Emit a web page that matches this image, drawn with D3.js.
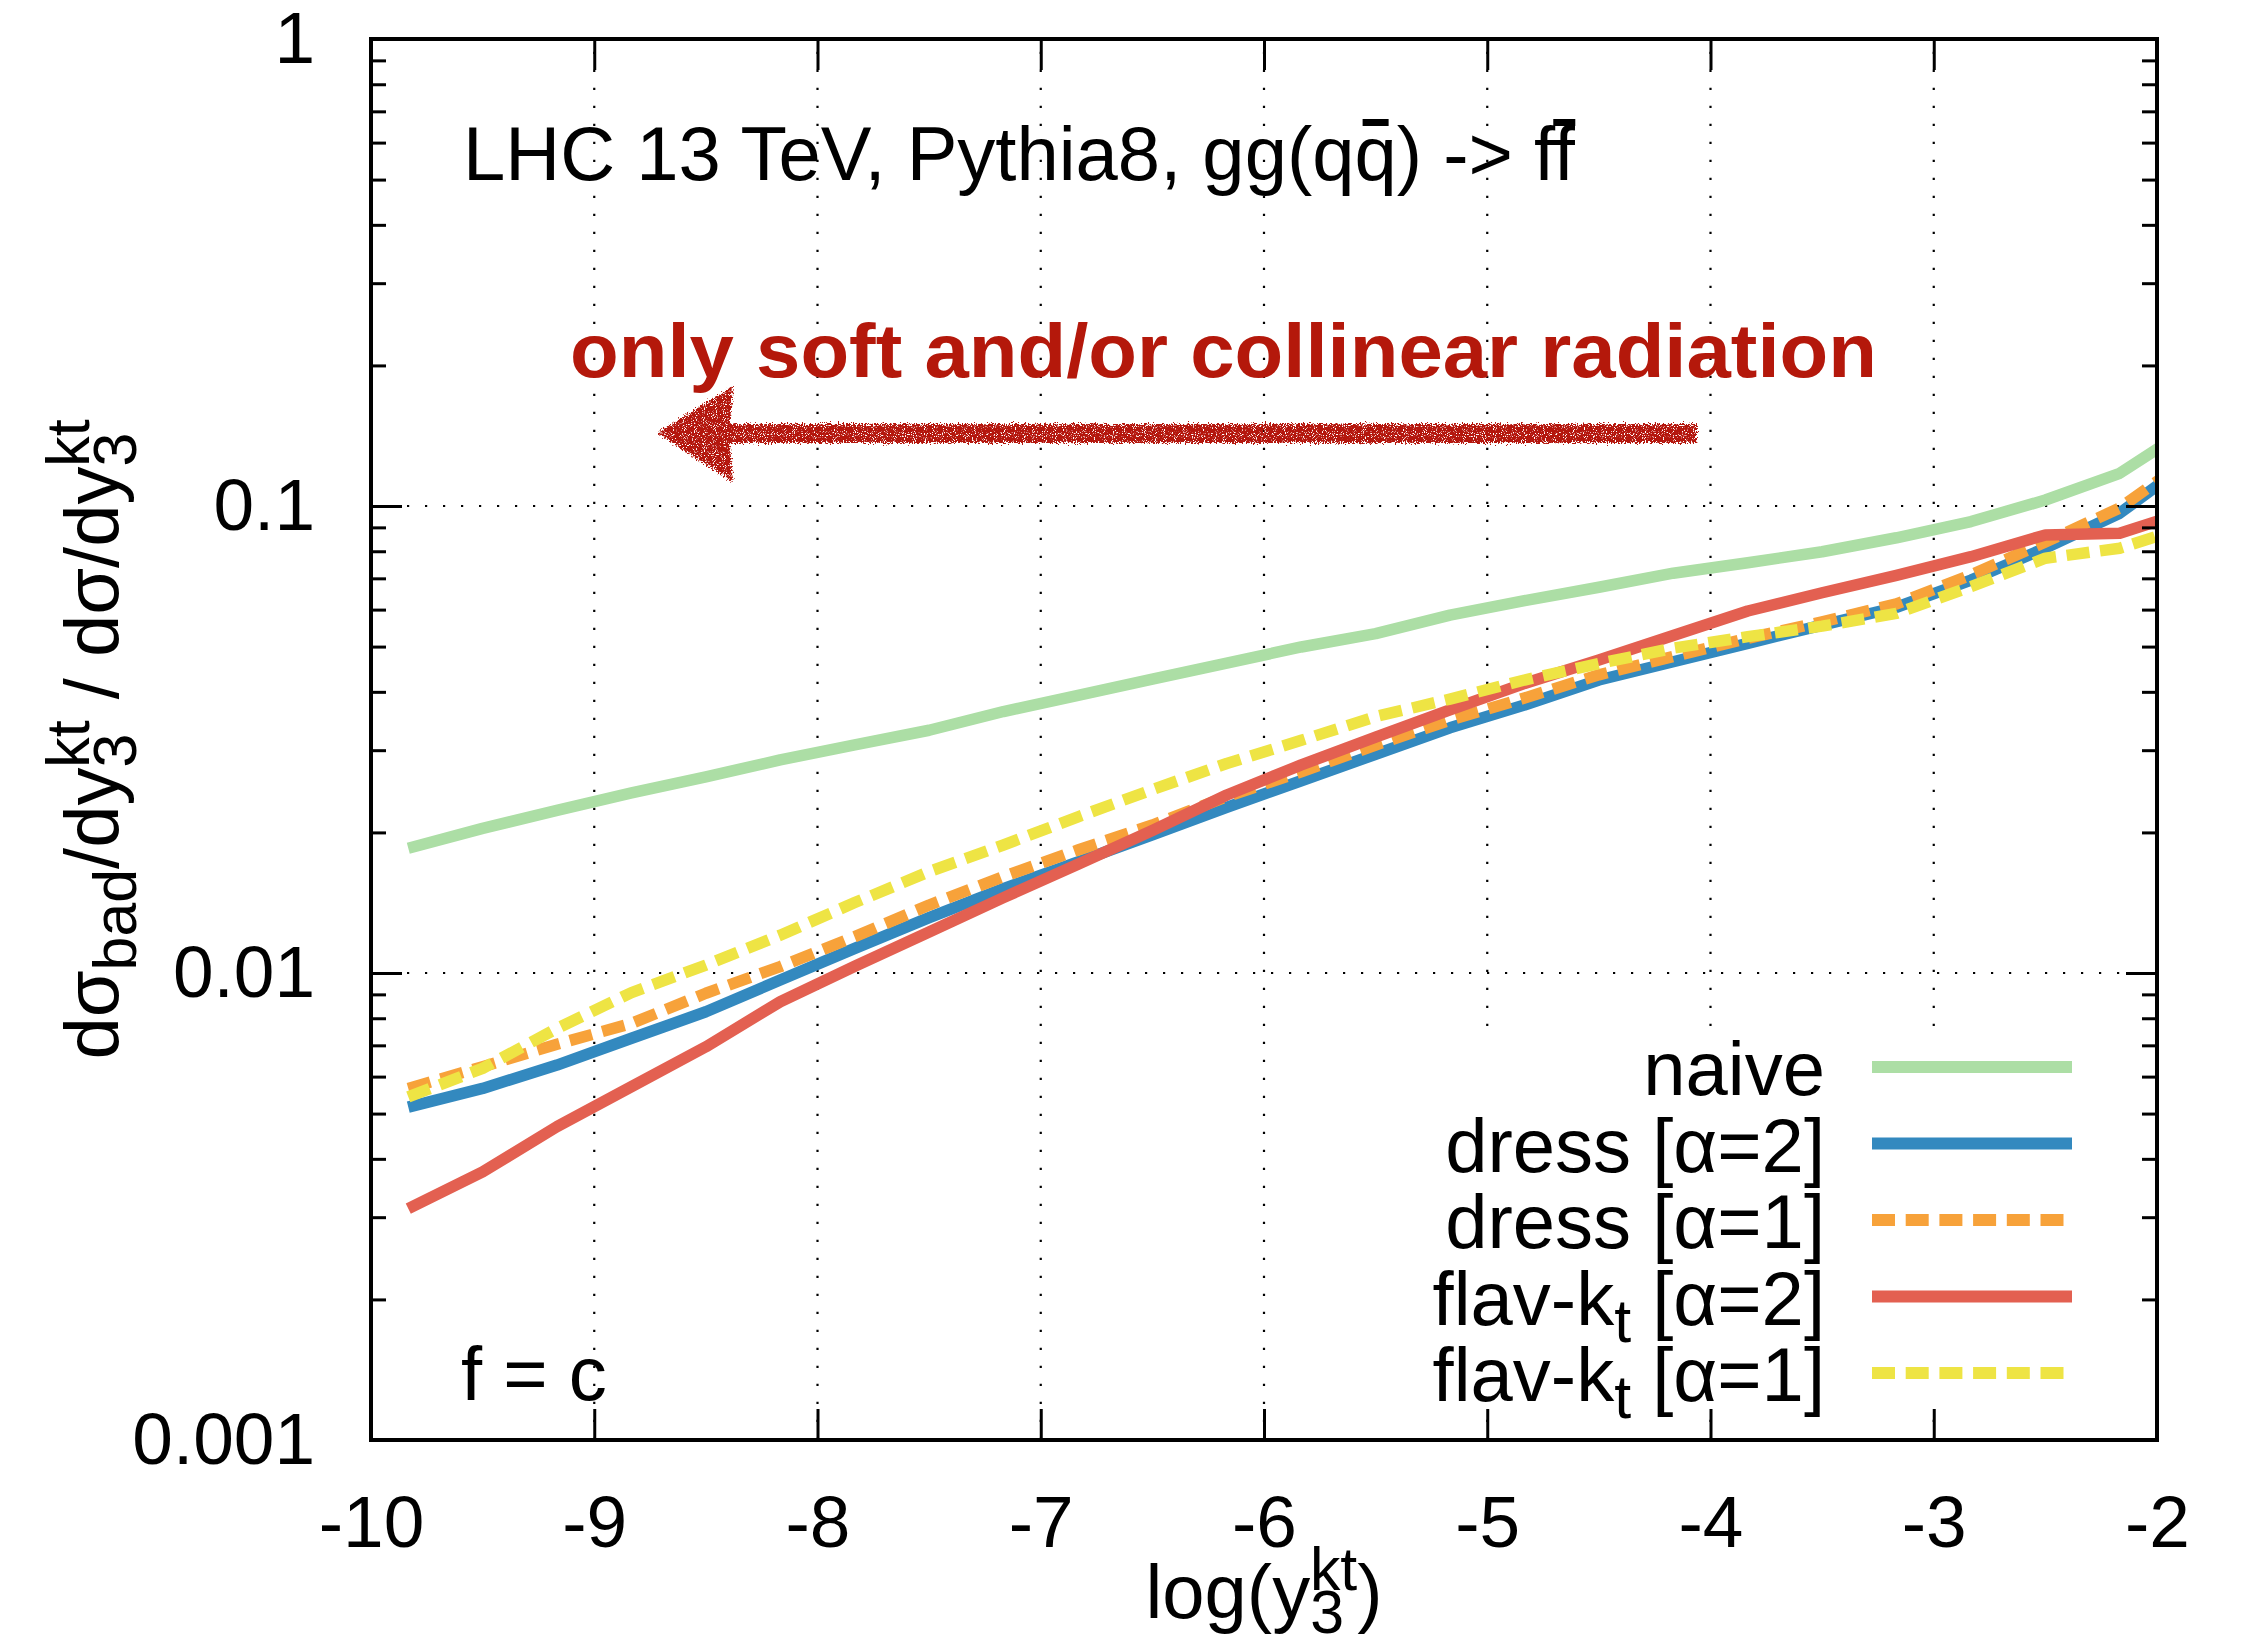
<!DOCTYPE html>
<html>
<head>
<meta charset="utf-8">
<script src="https://cdn.jsdelivr.net/npm/d3@7"></script>
<style>
  html, body { margin: 0; padding: 0; background: #fff; }
  svg { display: block; }
  text { font-family: "Liberation Sans", Arial, Helvetica, sans-serif; fill: #000; }
</style>
</head>
<body>
<svg id="chart" width="2244" height="1642"></svg>
<script>
// log(y3kt) bin centres
const logY3 = [-9.833, -9.5, -9.167, -8.833, -8.5, -8.167, -7.833, -7.5, -7.167, -6.833,
               -6.5, -6.167, -5.833, -5.5, -5.167, -4.833, -4.5, -4.167, -3.833, -3.5,
               -3.167, -2.833, -2.5, -2.167, -1.833];

// fraction of events with a badly-identified flavour, per algorithm
const naive = [0.0185, 0.0204, 0.0223, 0.0243, 0.0263, 0.0286, 0.0308, 0.0331, 0.0363, 0.0393,
               0.0426, 0.0461, 0.0499, 0.0533, 0.0584, 0.0627, 0.0670, 0.0718, 0.0756, 0.0798,
               0.0855, 0.0926, 0.1030, 0.1175, 0.149];
const dressA2 = [0.00516, 0.00566, 0.00635, 0.00725, 0.00826, 0.00966, 0.01129, 0.01314, 0.01516, 0.0173,
                 0.01977, 0.02264, 0.0258, 0.0294, 0.0335, 0.0375, 0.0424, 0.0464, 0.0508, 0.0556,
                 0.0607, 0.0694, 0.0813, 0.0965, 0.1263];
const dressA1 = [0.00566, 0.0063, 0.00704, 0.0078, 0.00905, 0.01032, 0.01196, 0.01398, 0.01608, 0.01834,
                 0.02074, 0.02385, 0.02698, 0.03078, 0.0348, 0.0388, 0.0435, 0.0476, 0.0521, 0.0565,
                 0.0617, 0.0712, 0.0837, 0.0990, 0.1286];
const flavKtA2 = [0.00313, 0.00375, 0.00469, 0.00571, 0.00695, 0.00868, 0.01034, 0.01224, 0.0145, 0.0171,
                  0.0202, 0.02405, 0.0279, 0.0320, 0.0366, 0.0417, 0.0468, 0.0528, 0.0596, 0.0652,
                  0.0710, 0.0779, 0.0867, 0.0874, 0.0984];
const flavKtA1 = [0.00543, 0.00625, 0.00761, 0.00908, 0.0104, 0.01205, 0.01415, 0.01648, 0.0188, 0.0216,
                  0.0247, 0.0281, 0.0315, 0.0354, 0.0386, 0.0424, 0.0460, 0.0496, 0.0525, 0.0553,
                  0.0589, 0.0672, 0.0773, 0.0812, 0.0913];

const xTicks = [-10, -9, -8, -7, -6, -5, -4, -3, -2];
const yTicks = [0.001, 0.01, 0.1, 1];
const yTickLabels = ["0.001", "0.01", "0.1", "1"];
const yMinorTicks = [0.002, 0.003, 0.004, 0.005, 0.006, 0.007, 0.008, 0.009,
                     0.02, 0.03, 0.04, 0.05, 0.06, 0.07, 0.08, 0.09,
                     0.2, 0.3, 0.4, 0.5, 0.6, 0.7, 0.8, 0.9];

const series = [
  { name: "naive",  sub: null, values: naive,    color: "#acdea5", dash: null },
  { name: "dress [α=2]", sub: null, values: dressA2, color: "#3389bf", dash: null },
  { name: "dress [α=1]", sub: null, values: dressA1, color: "#f7a23a", dash: "23 10.7" },
  { name: "flav-k", sub: "t", tail: " [α=2]", values: flavKtA2, color: "#e36051", dash: null },
  { name: "flav-k", sub: "t", tail: " [α=1]", values: flavKtA1, color: "#eee444", dash: "23 10.7" }
];

const W = 2244, H = 1642;
const plot = { left: 371, right: 2157, top: 39, bottom: 1440 };
const FONT = 76, TICKFONT = 73;

const svg = d3.select("#chart");
svg.append("rect").attr("width", W).attr("height", H).attr("fill", "#fff");

const x = d3.scaleLinear().domain([-10, -2]).range([plot.left, plot.right]);
const y = d3.scaleLog().domain([0.001, 1]).range([plot.bottom, plot.top]);

const defs = svg.append("defs");
defs.append("clipPath").attr("id", "plotclip")
  .append("rect")
  .attr("x", plot.left).attr("y", plot.top)
  .attr("width", plot.right - plot.left).attr("height", plot.bottom - plot.top);

// ragged, chalk-like edge for the hand-drawn arrow
const rough = defs.append("filter").attr("id", "rough")
  .attr("x", "-5%").attr("y", "-40%").attr("width", "110%").attr("height", "180%");
rough.append("feTurbulence").attr("type", "fractalNoise").attr("baseFrequency", "0.6")
  .attr("numOctaves", 2).attr("seed", 7).attr("result", "noise");
rough.append("feDisplacementMap").attr("in", "SourceGraphic").attr("in2", "noise")
  .attr("scale", 9).attr("xChannelSelector", "R").attr("yChannelSelector", "G")
  .attr("result", "shaken");
rough.append("feTurbulence").attr("type", "fractalNoise").attr("baseFrequency", "0.9")
  .attr("numOctaves", 1).attr("seed", 3).attr("result", "speck");
rough.append("feColorMatrix").attr("in", "speck").attr("type", "matrix")
  .attr("values", "0 0 0 0 0  0 0 0 0 0  0 0 0 0 0  0 0 0 -9 6.2").attr("result", "mask");
rough.append("feComposite").attr("in", "shaken").attr("in2", "mask").attr("operator", "in");

// dotted grid at the major ticks
const grid = svg.append("g").attr("stroke", "#000").attr("stroke-width", 2.2)
  .attr("stroke-dasharray", "2.2 15.8");
xTicks.filter(t => t > -10 && t < -2).forEach(t => {
  grid.append("line").attr("x1", x(t)).attr("x2", x(t))
    .attr("y1", plot.bottom).attr("y2", plot.top);
});
[0.01, 0.1].forEach(v => {
  grid.append("line").attr("x1", plot.left).attr("x2", plot.right)
    .attr("y1", y(v)).attr("y2", y(v));
});

// curves
const line = d3.line().x((d, i) => x(logY3[i])).y(d => y(d));
const curves = svg.append("g").attr("clip-path", "url(#plotclip)");
series.forEach(s => {
  curves.append("path")
    .attr("d", line(s.values))
    .attr("fill", "none")
    .attr("stroke", s.color)
    .attr("stroke-width", 11.5)
    .attr("stroke-linejoin", "round")
    .attr("stroke-linecap", "butt")
    .attr("stroke-dasharray", s.dash);
});

// annotations
const title = svg.append("text")
  .attr("x", 463).attr("y", 180)
  .attr("font-size", FONT)
  .text("LHC 13 TeV, Pythia8, gg(qq) -> ff");
[25, 32].forEach(idx => {
  const e = title.node().getExtentOfChar(idx);
  const cx = e.x + e.width / 2;
  const bw = idx === 25 ? 26 : 22;
  svg.append("rect").attr("x", cx - bw / 2).attr("y", 119).attr("width", bw).attr("height", 7)
    .attr("fill", "#000");
});

svg.append("text")
  .attr("x", 570).attr("y", 377)
  .attr("font-size", 76).attr("font-weight", "bold")
  .attr("textLength", 1307).attr("lengthAdjust", "spacingAndGlyphs")
  .style("fill", "#b4180b")
  .text("only soft and/or collinear radiation");

const arrow = svg.append("g").attr("filter", "url(#rough)").attr("fill", "#b4180b");
arrow.append("path").attr("d", "M657,433 L733,386 L729,433 L733,482 Z");
arrow.append("rect").attr("x", 725).attr("y", 424).attr("width", 972).attr("height", 19);

svg.append("text").attr("x", 461).attr("y", 1400).attr("font-size", FONT).text("f = c");

// legend (opaque key)
const key = svg.append("g");
key.append("rect").attr("x", 1410).attr("y", 1032).attr("width", 700).attr("height", 374).attr("fill", "#fff");
const rowY0 = 1067, rowStep = 76.5;
series.forEach((s, i) => {
  const ry = rowY0 + i * rowStep;
  const t = key.append("text").attr("x", 1825).attr("y", ry + 28)
    .attr("text-anchor", "end").attr("font-size", FONT);
  t.append("tspan").text(s.name);
  if (s.sub) {
    t.append("tspan").attr("font-size", FONT * 0.8).attr("dy", 17).text(s.sub);
    t.append("tspan").attr("dy", -17).text(s.tail);
  }
  key.append("line").attr("x1", 1872).attr("x2", 2072).attr("y1", ry).attr("y2", ry)
    .attr("stroke", s.color).attr("stroke-width", 12)
    .attr("stroke-dasharray", s.dash);
});

// axes: inward ticks on all four sides
const axB = d3.axisBottom(x).tickValues(xTicks).tickFormat(d => String(d))
  .tickSizeInner(-31).tickSizeOuter(0).tickPadding(55);
const gB = svg.append("g").attr("transform", `translate(0,${plot.bottom})`).call(axB);
const axT = d3.axisTop(x).tickValues(xTicks).tickFormat("").tickSizeInner(-31).tickSizeOuter(0);
const gT = svg.append("g").attr("transform", `translate(0,${plot.top})`).call(axT);

const axL = d3.axisLeft(y).tickValues(yTicks).tickFormat((d, i) => yTickLabels[i])
  .tickSizeInner(-31).tickSizeOuter(0).tickPadding(56);
const gL = svg.append("g").attr("transform", `translate(${plot.left},0)`).call(axL);
const axR = d3.axisRight(y).tickValues(yTicks).tickFormat("").tickSizeInner(-31).tickSizeOuter(0);
const gR = svg.append("g").attr("transform", `translate(${plot.right},0)`).call(axR);

const axLm = d3.axisLeft(y).tickValues(yMinorTicks).tickFormat("").tickSizeInner(-15).tickSizeOuter(0);
const gLm = svg.append("g").attr("transform", `translate(${plot.left},0)`).call(axLm);
const axRm = d3.axisRight(y).tickValues(yMinorTicks).tickFormat("").tickSizeInner(-15).tickSizeOuter(0);
const gRm = svg.append("g").attr("transform", `translate(${plot.right},0)`).call(axRm);

[gB, gT, gL, gR, gLm, gRm].forEach(g => {
  g.select(".domain").remove();
  g.selectAll(".tick line").attr("stroke", "#000").attr("stroke-width", 3);
  g.selectAll(".tick text")
    .attr("font-size", TICKFONT)
    .attr("font-family", "'Liberation Sans', Arial, Helvetica, sans-serif")
    .attr("fill", "#000");
});

svg.append("rect")
  .attr("x", plot.left).attr("y", plot.top)
  .attr("width", plot.right - plot.left).attr("height", plot.bottom - plot.top)
  .attr("fill", "none").attr("stroke", "#000").attr("stroke-width", 4);

// axis titles
const sub = FONT * 0.8;
const xl = svg.append("text")
  .attr("x", (plot.left + plot.right) / 2).attr("y", 1618)
  .attr("text-anchor", "middle").attr("font-size", FONT);
xl.append("tspan").text("log(y");
xl.append("tspan").attr("font-size", sub).attr("dy", 15).text("3");
xl.append("tspan").attr("font-size", sub).attr("dx", -34).attr("dy", -43).text("kt");
xl.append("tspan").attr("dy", 28).text(")");

const yl = svg.append("text")
  .attr("transform", `translate(118,${(plot.top + plot.bottom) / 2}) rotate(-90)`)
  .attr("text-anchor", "middle").attr("font-size", FONT);
yl.append("tspan").text("dσ");
yl.append("tspan").attr("font-size", sub).attr("dy", 18).text("bad");
yl.append("tspan").attr("dy", -18).text("/dy");
yl.append("tspan").attr("font-size", sub).attr("dy", 18).text("3");
yl.append("tspan").attr("font-size", sub).attr("dx", -34).attr("dy", -47).text("kt");
yl.append("tspan").attr("dy", 29).text(" / dσ/dy");
yl.append("tspan").attr("font-size", sub).attr("dy", 18).text("3");
yl.append("tspan").attr("font-size", sub).attr("dx", -34).attr("dy", -47).text("kt");
</script>
</body>
</html>
